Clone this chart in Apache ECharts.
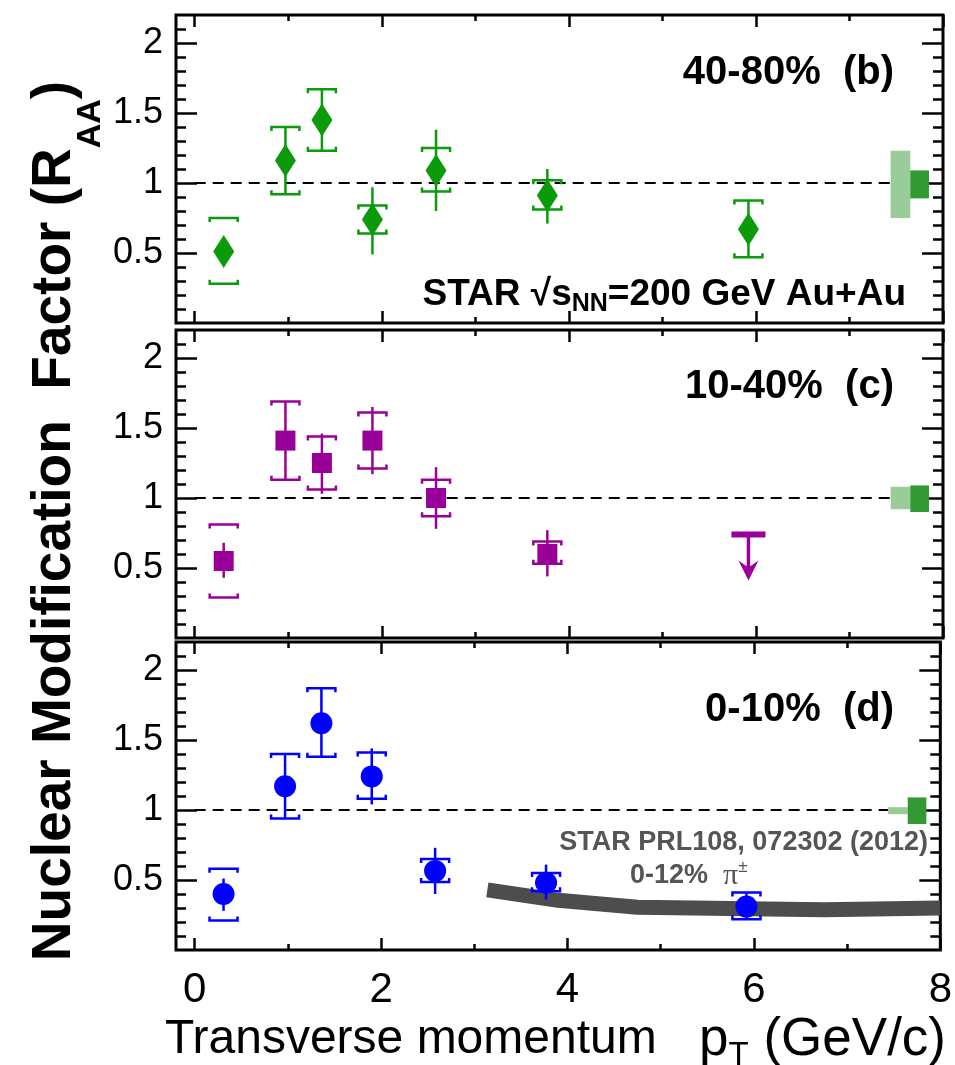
<!DOCTYPE html>
<html>
<head>
<meta charset="utf-8">
<script src="https://cdn.jsdelivr.net/npm/echarts@6/dist/echarts.min.js"></script>
<style>
html, body { margin: 0; padding: 0; background: #fff; }
#main { width: 955px; height: 1065px; }
</style>
</head>
<body>
<div id="main"></div>
<script>
// pT bin centres (GeV/c)
var ptBins = [0.31, 0.97, 1.36, 1.90, 2.58, 3.77, 5.92];

// 40-80% (b)
var raaB    = [0.51, 1.16, 1.45, 0.74, 1.09, 0.91, 0.67];
var statLoB = [0.46, 0.92, 1.23, 0.49, 0.80, 0.71, 0.47];
var statHiB = [0.56, 1.40, 1.67, 0.97, 1.38, 1.10, 0.875];
var sysLoB  = [0.28, 0.92, 1.23, 0.64, 0.94, 0.81, 0.47];
var sysHiB  = [0.75, 1.40, 1.67, 0.84, 1.25, 1.02, 0.875];

// 10-40% (c), last bin is an upper limit
var raaC    = [0.55, 1.41, 1.25, 1.41, 1.00, 0.60];
var statLoC = [0.43, 1.13, 1.03, 1.17, 0.78, 0.44];
var statHiC = [0.68, 1.69, 1.46, 1.65, 1.22, 0.77];
var sysLoC  = [0.29, 1.13, 1.06, 1.21, 0.87, 0.53];
var sysHiC  = [0.81, 1.69, 1.44, 1.61, 1.13, 0.69];
var limitC  = [5.92, 0.74, 0.41]; // pT, limit, arrow tip

// 0-10% (d)
var raaD    = [0.40, 1.17, 1.62, 1.24, 0.565, 0.48, 0.31];
var statLoD = [0.28, 0.94, 1.38, 1.04, 0.40, 0.36, 0.22];
var statHiD = [0.51, 1.40, 1.87, 1.44, 0.73, 0.61, 0.41];
var sysLoD  = [0.21, 0.94, 1.38, 1.08, 0.485, 0.42, 0.22];
var sysHiD  = [0.58, 1.40, 1.87, 1.41, 0.65, 0.55, 0.41];

// STAR PRL108 072302, 0-12% pi+-
var pionPt  = [3.14, 3.90, 4.75, 6.75, 8.0];
var pionRaa = [0.43, 0.355, 0.305, 0.288, 0.30];

// normalisation boxes: pT edges, then [lo, hi] global (light) and per panel (dark)
var normPt    = [7.44, 7.65, 7.85];
var normGlobB = [0.75, 1.23], normBinB = [0.89, 1.09];
var normGlobC = [0.92, 1.08], normBinC = [0.90, 1.09];
var normGlobD = [0.97, 1.02], normBinD = [0.90, 1.09];

// tick values
var xMajor = [0, 2, 4, 6, 8];
var xMinor = [1, 3, 5, 7];
var yMajor = [0.5, 1, 1.5, 2];
var yMinor = [0.1, 0.2, 0.3, 0.4, 0.6, 0.7, 0.8, 0.9, 1.1, 1.2, 1.3, 1.4, 1.6, 1.7, 1.8, 1.9, 2.1];

var F = 'Liberation Sans, Arial, Helvetica, sans-serif';
var gridTop = [15, 330, 642];

function zip() {
    var cols = arguments, out = [];
    for (var i = 0; i < cols[0].length; i++) {
        var row = [];
        for (var j = 0; j < cols.length; j++) row.push(cols[j][i]);
        out.push(row);
    }
    return out;
}

function xAxesFor(g) {
    function ax(pos, vals, len, labels) {
        return {
            type: 'value', gridIndex: g, min: -0.2, max: 8, position: pos,
            axisLine: { show: false, onZero: false },
            splitLine: { show: false },
            axisTick: { show: true, inside: true, length: len, customValues: vals, lineStyle: { color: '#000', width: 2.5 } },
            axisLabel: labels ? { show: true, customValues: vals, margin: 19, fontSize: 42, fontFamily: F, color: '#000' } : { show: false }
        };
    }
    return [ax('bottom', xMajor, 12, g === 2), ax('bottom', xMinor, 6, false), ax('top', xMajor, 12, false), ax('top', xMinor, 6, false)];
}

function yAxesFor(g) {
    function ax(pos, vals, len, labels) {
        return {
            type: 'value', gridIndex: g, min: 0, max: 2.2, position: pos,
            axisLine: { show: false, onZero: false },
            splitLine: { show: false },
            axisTick: { show: true, inside: true, length: len, customValues: vals, lineStyle: { color: '#000', width: 2.5 } },
            axisLabel: labels ? { show: true, customValues: vals, margin: 13, fontSize: 36, fontFamily: F, color: '#000' } : { show: false }
        };
    }
    return [ax('left', yMajor, 21, true), ax('left', yMinor, 10, false), ax('right', yMajor, 21, false), ax('right', yMinor, 10, false)];
}

function bracketRender(color) {
    return function (params, api) {
        var x = api.value(0);
        var lo = api.coord([x, api.value(1)]);
        var hi = api.coord([x, api.value(2)]);
        var w = 14, t = 4;
        var s = { stroke: color, lineWidth: 2.5, fill: null };
        return { type: 'group', children: [
            { type: 'polyline', shape: { points: [[hi[0] - w, hi[1] + t], [hi[0] - w, hi[1]], [hi[0] + w, hi[1]], [hi[0] + w, hi[1] + t]] }, style: s },
            { type: 'polyline', shape: { points: [[lo[0] - w, lo[1] - t], [lo[0] - w, lo[1]], [lo[0] + w, lo[1]], [lo[0] + w, lo[1] - t]] }, style: s }
        ] };
    };
}

function statRender(color) {
    return function (params, api) {
        var x = api.value(0);
        var lo = api.coord([x, api.value(1)]);
        var hi = api.coord([x, api.value(2)]);
        return { type: 'line', shape: { x1: lo[0], y1: lo[1], x2: hi[0], y2: hi[1] }, style: { stroke: color, lineWidth: 2.5 } };
    };
}

function boxRender(params, api) {
    var a = api.coord([api.value(0), api.value(3)]);
    var b = api.coord([api.value(1), api.value(2)]);
    return { type: 'rect', shape: { x: a[0], y: a[1], width: b[0] - a[0], height: b[1] - a[1] }, style: { fill: api.value(4) === 1 ? '#99cc99' : '#339933' } };
}

function panelSeries(g, color, symbol, size, pt, raa, stLo, stHi, syLo, syHi, glob, bin) {
    var xi = g * 4, yi = g * 4;
    return [
        { type: 'line', xAxisIndex: xi, yAxisIndex: yi, data: [[0, 1], [normPt[0], 1]], symbol: 'none', z: 2,
          lineStyle: { color: '#000', width: 2.2, type: [11, 7] } },
        { type: 'custom', xAxisIndex: xi, yAxisIndex: yi, renderItem: boxRender, z: 3,
          encode: { x: [0, 1], y: [2, 3] },
          data: [[normPt[0], normPt[1], glob[0], glob[1], 1], [normPt[1], normPt[2], bin[0], bin[1], 2]] },
        { type: 'custom', xAxisIndex: xi, yAxisIndex: yi, renderItem: statRender(color), z: 4,
          encode: { x: 0, y: [1, 2] }, data: zip(pt, stLo, stHi) },
        { type: 'custom', xAxisIndex: xi, yAxisIndex: yi, renderItem: bracketRender(color), z: 4,
          encode: { x: 0, y: [1, 2] }, data: zip(pt, syLo, syHi) },
        { type: 'scatter', xAxisIndex: xi, yAxisIndex: yi, symbol: symbol, symbolSize: size, z: 5,
          itemStyle: { color: color, opacity: 1 }, data: zip(pt, raa) }
    ];
}

var series = [].concat(
    panelSeries(0, '#0a9a0a', 'diamond', [21, 33], ptBins, raaB, statLoB, statHiB, sysLoB, sysHiB, normGlobB, normBinB),
    panelSeries(1, '#990099', 'rect', 20, ptBins.slice(0, 6), raaC, statLoC, statHiC, sysLoC, sysHiC, normGlobC, normBinC),
    panelSeries(2, '#0000ff', 'circle', 22, ptBins, raaD, statLoD, statHiD, sysLoD, sysHiD, normGlobD, normBinD)
);

// upper limit arrow in 10-40%
series.push({
    type: 'custom', xAxisIndex: 4, yAxisIndex: 4, z: 5,
    encode: { x: 0, y: [1, 2] }, data: [limitC],
    renderItem: function (params, api) {
        var top = api.coord([api.value(0), api.value(1)]);
        var tip = api.coord([api.value(0), api.value(2)]);
        var c = '#990099';
        return { type: 'group', children: [
            { type: 'rect', shape: { x: top[0] - 17, y: top[1] - 3, width: 34, height: 6 }, style: { fill: c } },
            { type: 'line', shape: { x1: top[0], y1: top[1], x2: tip[0], y2: tip[1] - 12 }, style: { stroke: c, lineWidth: 3.5 } },
            { type: 'polygon', shape: { points: [[tip[0], tip[1]], [tip[0] - 10, tip[1] - 20], [tip[0], tip[1] - 13], [tip[0] + 10, tip[1] - 20]] }, style: { fill: c } }
        ] };
    }
});

// pion band in 0-10%
series.push({
    type: 'line', xAxisIndex: 8, yAxisIndex: 8, z: 1, symbol: 'none',
    data: zip(pionPt, pionRaa),
    lineStyle: { color: '#4d4d4d', width: 15, cap: 'butt' }
});

var xAxis = [], yAxis = [], grid = [];
for (var g = 0; g < 3; g++) {
    grid.push({ left: 176, width: 767, top: gridTop[g], height: 308, show: true, borderColor: '#000', borderWidth: 3, backgroundColor: 'transparent' });
    xAxis = xAxis.concat(xAxesFor(g));
    yAxis = yAxis.concat(yAxesFor(g));
}

function txt(x, y, text, font, align, fill, rich) {
    var st = { text: text, font: font, fill: fill || '#000', align: align, verticalAlign: 'middle', textAlign: align, textVerticalAlign: 'middle' };
    if (rich) st.rich = rich;
    return { type: 'text', x: x, y: y, z: 100, style: st };
}

var graphic = [
    txt(894, 73, '40-80%  (b)', 'bold 40px ' + F, 'right'),
    txt(894, 387, '10-40%  (c)', 'bold 40px ' + F, 'right'),
    txt(894, 710, '0-10%  (d)', 'bold 40px ' + F, 'right'),
    txt(906, 295, '{m|STAR \u221As}{s|NN}{m|=200 GeV Au+Au}', 'bold 37px ' + F, 'right', '#000', {
        m: { fontSize: 37, fontWeight: 'bold', fontFamily: F, fill: '#000' },
        s: { fontSize: 25, fontWeight: 'bold', fontFamily: F, fill: '#000', padding: [19, 0, 0, 0] }
    }),
    txt(928, 843, 'STAR PRL108, 072302 (2012)', 'bold 27px ' + F, 'right', '#555'),
    txt(630, 876, '{b|0-12%  }{p|\u03c0}{u|\u00b1}', 'bold 27px ' + F, 'left', '#555', {
        b: { fontSize: 27, fontWeight: 'bold', fontFamily: F, fill: '#555' },
        p: { fontSize: 30, fontFamily: 'Liberation Serif, serif', fill: '#555' },
        u: { fontSize: 17, fontFamily: F, fill: '#555', padding: [0, 0, 18, 0] }
    }),
    txt(165, 1040, 'Transverse momentum', '48px ' + F, 'left'),
    txt(946, 1040, '{m|p}{s|T}{m| (GeV/c)}', '53px ' + F, 'right', '#000', {
        m: { fontSize: 53, fontFamily: F, fill: '#000' },
        s: { fontSize: 33, fontFamily: F, fill: '#000', padding: [32, 0, 0, 0] }
    })
];
var ylab = txt(55, 521, '{m|Nuclear Modification  Factor (R}{s|AA}{m|)}', 'bold 55px ' + F, 'center', '#000', {
    m: { fontSize: 55, fontWeight: 'bold', fontFamily: F, fill: '#000' },
    s: { fontSize: 34, fontWeight: 'bold', fontFamily: F, fill: '#000', padding: [72, 0, 0, 0] }
});
ylab.rotation = Math.PI / 2;
graphic.push(ylab);

var chart = echarts.init(document.getElementById('main'), null, { renderer: 'canvas' });
chart.setOption({
    animation: false,
    backgroundColor: '#fff',
    grid: grid,
    xAxis: xAxis,
    yAxis: yAxis,
    series: series,
    graphic: graphic
});
</script>
</body>
</html>
